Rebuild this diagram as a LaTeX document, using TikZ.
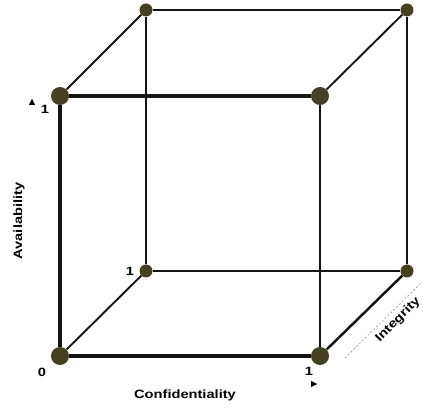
\documentclass[tikz,border=0pt]{standalone}
\usepackage{graphicx}
\usepackage{fontspec}
\setmainfont{Liberation Sans}
\usetikzlibrary{positioning, arrows.meta}
\definecolor{dotOlive}{RGB}{68,64,32}
\definecolor{edgeDark}{RGB}{20,20,20}
\definecolor{dashGrey}{RGB}{150,150,150}
\newcommand{\widetext}[1]{\scalebox{1.22}[1]{#1}}

\begin{document}
\begin{tikzpicture}[x=1pt, y=-1pt,
  frontdot/.style={circle, fill=dotOlive, inner sep=0pt, minimum size=18pt},
  backdot/.style={circle, fill=dotOlive, inner sep=0pt, minimum size=13pt},
  heavy/.style={draw=edgeDark, line width=3.2pt},
  medium/.style={draw=edgeDark, line width=2.5pt},
  light/.style={draw=edgeDark, line width=1.9pt},
  axlabel/.style={font=\fontsize{12}{14}\selectfont\bfseries, inner sep=0pt},
  axtip/.style={-{Triangle[length=6pt, width=6pt]}, line width=0.3pt},
]
  \useasboundingbox (0,0) rectangle (423,411);

  \node[frontdot] (fbl) at (60,356) {};
  \node[frontdot] (fbr) at (320,356) {};
  \node[frontdot] (ftl) at (60,96) {};
  \node[frontdot] (ftr) at (320,96) {};
  \node[backdot] (bbl) at (146,271) {};
  \node[backdot] (bbr) at (407,271) {};
  \node[backdot] (btl) at (146,10) {};
  \node[backdot] (btr) at (407,10) {};

  \draw[medium] (bbl) -- (bbr);
  \draw[medium] (bbl) -- (btl);
  \draw[light] (btl) -- (btr);
  \draw[light] (bbr) -- (btr);

  \draw[light] (fbl) -- (bbl);
  \draw[medium] (fbr) -- (bbr);
  \draw[light] (ftl) -- (btl);
  \draw[light] (ftr) -- (btr);

  \draw[heavy] (fbl) -- (fbr);
  \draw[heavy] (fbl) -- (ftl);
  \draw[heavy] (ftl) -- (ftr);
  \draw[light] (fbr) -- (ftr);

  \node[axlabel] (zero) at (42,372) {\widetext{0}};
  \node[axlabel] (oneA) at (45,109) {\widetext{1}};
  \node[axlabel] (oneI) at (130,271) {\widetext{1}};
  \node[axlabel] (oneC) at (309,371) {\widetext{1}};

  \coordinate (tipA) at (32,99);
  \coordinate (tipC) at (317,384);
  \draw[axtip] ([yshift=-1pt]tipA) -- (tipA);
  \draw[axtip] ([xshift=-1pt]tipC) -- (tipC);

  \node[axlabel, rotate=90] (avail) at (19,221) {\widetext{Availability}};
  \node[axlabel] (conf) at (185,395) {\widetext{Confidentiality}};
  \node[axlabel, rotate=45] (integ) at (398,320) {\widetext{Integrity}};

  \coordinate (dashS) at (345,358);
  \coordinate (dashE) at (422,282);
  \draw[dashGrey, dashed, line width=0.6pt, dash pattern=on 2pt off 2pt] (dashS) -- (dashE);
\end{tikzpicture}
\end{document}
